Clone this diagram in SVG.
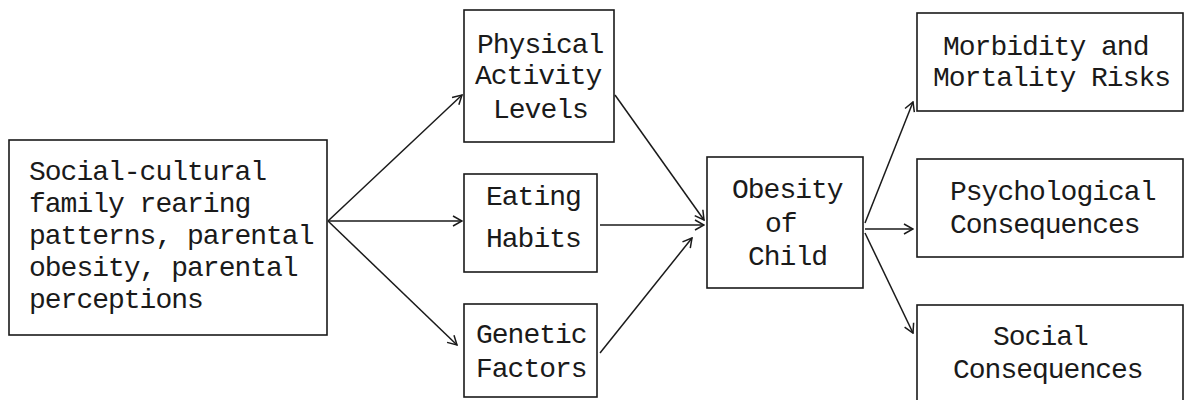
<svg xmlns="http://www.w3.org/2000/svg" width="1189" height="400" viewBox="0 0 1189 400">
<style>
.box{fill:none;stroke:#1a1a1a;stroke-width:1.6}
.t{font-family:"Liberation Mono","DejaVu Sans Mono",monospace;font-size:28px;letter-spacing:-1px;fill:#1a1a1a}
.c{fill:none;stroke:#1a1a1a;stroke-width:1.5;marker-end:url(#ah)}
</style>
<defs>
<marker id="ah" viewBox="0 0 12 12" refX="11" refY="6" markerWidth="12" markerHeight="12" markerUnits="userSpaceOnUse" orient="auto">
<path d="M2,1 L11,6 L2,11" fill="none" stroke="#1a1a1a" stroke-width="1.5"/>
</marker>
</defs>
<rect width="1189" height="400" fill="#fff"/>
<g id="n-social">
<rect class="box" x="9" y="140" width="318" height="195"/>
<text class="t" x="29" y="180">Social-cultural</text>
<text class="t" x="29" y="212">family rearing</text>
<text class="t" x="29" y="244">patterns, parental</text>
<text class="t" x="29" y="276">obesity, parental</text>
<text class="t" x="29" y="308">perceptions</text>
</g>
<g id="n-physical">
<rect class="box" x="464" y="10" width="150" height="132"/>
<text class="t" x="477" y="53">Physical</text>
<text class="t" x="475" y="84">Activity</text>
<text class="t" x="493" y="118">Levels</text>
</g>
<g id="n-eating">
<rect class="box" x="464" y="174" width="133" height="98"/>
<text class="t" x="486" y="205">Eating</text>
<text class="t" x="486" y="247">Habits</text>
</g>
<g id="n-genetic">
<rect class="box" x="464" y="304" width="133" height="93"/>
<text class="t" x="476" y="343">Genetic</text>
<text class="t" x="476" y="377">Factors</text>
</g>
<g id="n-obesity">
<rect class="box" x="707" y="157" width="156" height="131"/>
<text class="t" x="732" y="198">Obesity</text>
<text class="t" x="765" y="232">of</text>
<text class="t" x="748" y="265">Child</text>
</g>
<g id="n-morbidity">
<rect class="box" x="917" y="13" width="266" height="98"/>
<text class="t" x="943" y="55">Morbidity and</text>
<text class="t" x="933" y="86">Mortality Risks</text>
</g>
<g id="n-psych">
<rect class="box" x="917" y="159" width="266" height="98"/>
<text class="t" x="950" y="200">Psychological</text>
<text class="t" x="950" y="233">Consequences</text>
</g>
<g id="n-socialcons">
<rect class="box" x="917" y="305" width="266" height="100"/>
<text class="t" x="993" y="345">Social</text>
<text class="t" x="953" y="378">Consequences</text>
</g>
<g id="connectors">
<line class="c" x1="328" y1="221" x2="462" y2="95"/>
<line class="c" x1="328" y1="221" x2="462" y2="221"/>
<line class="c" x1="328" y1="221" x2="457" y2="345"/>
<line class="c" x1="615" y1="95" x2="704" y2="220"/>
<line class="c" x1="600" y1="225" x2="704" y2="225"/>
<line class="c" x1="600" y1="353" x2="692" y2="238"/>
<line class="c" x1="865" y1="223" x2="913" y2="102"/>
<line class="c" x1="865" y1="229" x2="913" y2="229"/>
<line class="c" x1="865" y1="233" x2="913" y2="333"/>
</g>
</svg>
